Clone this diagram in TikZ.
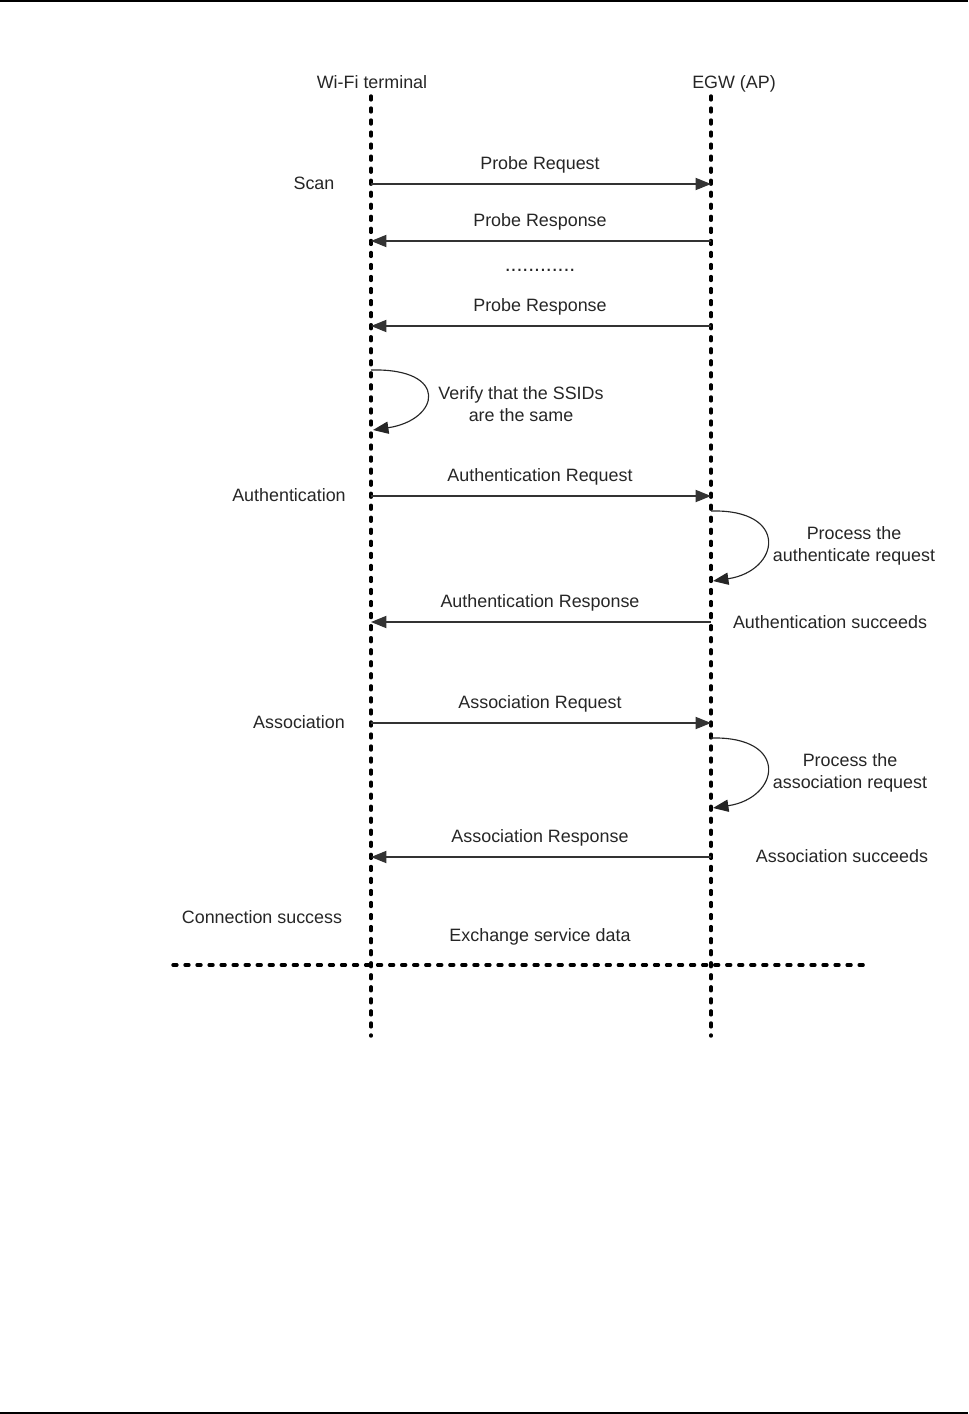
\documentclass[tikz,border=0pt]{standalone}
\usepackage{fontspec}
\setmainfont{Liberation Sans}
\usetikzlibrary{arrows.meta}

\tikzset{
  life/.style={line width=2.1pt,line cap=round,dash pattern=on 2.4pt off 5pt},
  msg/.style={draw=black!80,line width=0.8pt,-{Triangle[length=9.5pt,width=7.5pt]}},
  loopback/.style={draw=black!85,line width=0.7pt,-{Triangle[length=9.5pt,width=7.5pt]}},
  lbl/.style={font=\fontsize{11}{13.5}\selectfont,text=black!85,inner sep=0pt,
    text height=8pt,text depth=2.3pt,yshift=-1.2pt},
  note/.style={font=\fontsize{11}{13.5}\selectfont,text=black!85,inner sep=0pt,align=center,yshift=-1pt}
}

\begin{document}
\begin{tikzpicture}[x=0.6147pt,y=-0.6147pt]
\useasboundingbox (0,0) rectangle (968,1414);
\draw[line width=1.2pt] (0,1) -- (968,1);
\draw[line width=1.2pt] (0,1413) -- (968,1413);

% lifelines
\coordinate (wtop) at (371,96);
\coordinate (wbot) at (371,1036);
\coordinate (etop) at (711,96);
\coordinate (ebot) at (711,1036);
\draw[life] (wtop) -- (wbot);
\draw[life] (etop) -- (ebot);
\node[lbl] (wifi) at (372,82) {Wi-Fi terminal};
\node[lbl] (egw) at (734,82) {EGW (AP)};

% message levels
\foreach \n/\y in {preq/184,presa/241,presb/326,areq/496,ares/622,sreq/723,sres/857}{
  \coordinate (w\n) at (371,\y);
  \coordinate (e\n) at (711,\y);
}

% scan
\node[lbl] (scan) at (314,183) {Scan};
\draw[msg] (wpreq) -- (epreq);
\node[lbl] (preqlbl) at (540,163) {Probe Request};
\draw[msg] (epresa) -- (wpresa);
\node[lbl] (presalbl) at (540,220) {Probe Response};
\node[lbl,font=\fontsize{13}{15}\selectfont,anchor=base,yshift=0pt] (dots) at (540,270) {............};
\draw[msg] (epresb) -- (wpresb);
\node[lbl] (presblbl) at (540,305) {Probe Response};

\coordinate (wverA) at (371,370);
\coordinate (wverB) at (373,430);
\draw[loopback] (wverA) .. controls (450,368) and (440,420) .. (wverB);
\node[note] (verlbl) at (521,402) {Verify that the SSIDs\\are the same};

% authentication
\node[lbl] (auth) at (289,495) {Authentication};
\draw[msg] (wareq) -- (eareq);
\node[lbl] (areqlbl) at (540,475) {Authentication Request};
\coordinate (eprocA) at (711,511);
\coordinate (eprocB) at (713,581);
\draw[loopback] (eprocA) .. controls (790,509) and (780,571) .. (eprocB);
\node[note] (proclbl) at (854,544) {Process the\\authenticate request};
\draw[msg] (eares) -- (wares);
\node[lbl] (areslbl) at (540,601) {Authentication Response};
\node[lbl] (aok) at (830,622) {Authentication succeeds};

% association
\node[lbl] (assoc) at (299,722) {Association};
\draw[msg] (wsreq) -- (esreq);
\node[lbl] (sreqlbl) at (540,702) {Association Request};
\coordinate (esprocA) at (711,738);
\coordinate (esprocB) at (713,808);
\draw[loopback] (esprocA) .. controls (790,736) and (780,798) .. (esprocB);
\node[note] (sproclbl) at (850,771) {Process the\\association request};
\draw[msg] (esres) -- (wsres);
\node[lbl] (sreslbl) at (540,836) {Association Response};
\node[lbl] (sok) at (842,856) {Association succeeds};

% connected
\node[lbl] (conn) at (262,917) {Connection success};
\node[lbl] (xchg) at (540,935) {Exchange service data};
\coordinate (sepL) at (173,965);
\coordinate (sepR) at (868,965);
\draw[life] (sepL) -- (sepR);

\end{tikzpicture}
\end{document}
